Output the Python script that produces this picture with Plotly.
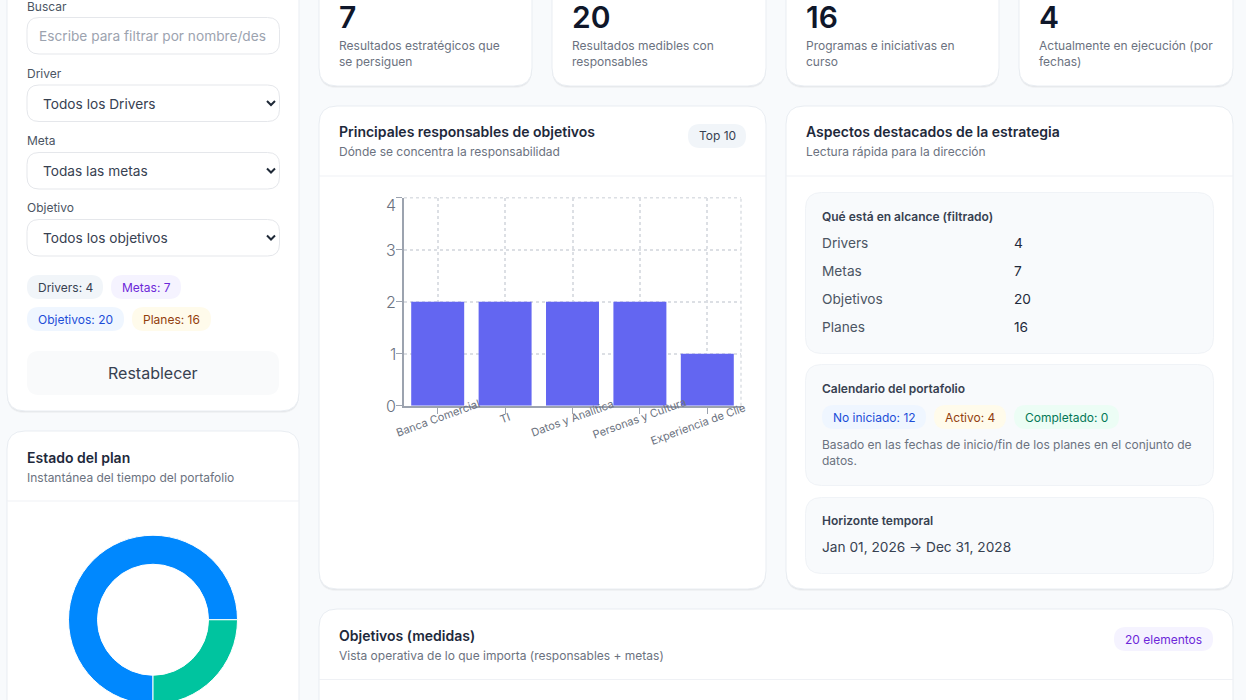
import plotly.graph_objects as go

# the page is taller than the window, the extra part is scrolled away with a negative margin
TOP = 40
W, H = 1246, 700 + TOP + 30

owners = ["Banca Comercial", "TI", "Datos y Analítica", "Personas y Cultura", "Experiencia de Clientes"]
owner_ticks = ["Banca Comercial", "TI", "Datos y Analítica", "Personas y Cultura", "Experiencia de Clie"]
owner_counts = [2, 2, 2, 2, 1]
count_ticks = [0, 1, 2, 3, 4]

status_labels = ["No iniciado", "Activo"]
status_values = [12, 4]
status_colors = ["#0088fe", "#00c49f"]

kpi_values = ["7", "20", "16", "4"]
kpi_notes = [
    ["Resultados estratégicos que", "se persiguen"],
    ["Resultados medibles con", "responsables"],
    ["Programas e iniciativas en", "curso"],
    ["Actualmente en ejecución (por", "fechas)"],
]
scope_labels = ["Drivers", "Metas", "Objetivos", "Planes"]
scope_values = ["4", "7", "20", "16"]
filter_labels = ["Driver", "Meta", "Objetivo"]
filter_values = ["Todos los Drivers", "Todas las metas", "Todos los objetivos"]

INK = "#1e293b"
BODY = "#374151"
MUTED = "#6b7280"
FONT = "Inter"


def px(x):
    return x / W


def py(y):
    return 1 - (y + TOP) / H


shapes = []
notes = []


def rrect(x0, y0, x1, y1, r, fill, line=None, lw=1):
    # rounded box in page pixels
    path = (
        f"M {px(x0 + r)} {py(y0)} L {px(x1 - r)} {py(y0)} Q {px(x1)} {py(y0)} {px(x1)} {py(y0 + r)} "
        f"L {px(x1)} {py(y1 - r)} Q {px(x1)} {py(y1)} {px(x1 - r)} {py(y1)} "
        f"L {px(x0 + r)} {py(y1)} Q {px(x0)} {py(y1)} {px(x0)} {py(y1 - r)} "
        f"L {px(x0)} {py(y0 + r)} Q {px(x0)} {py(y0)} {px(x0 + r)} {py(y0)} Z"
    )
    shapes.append(dict(type="path", path=path, xref="paper", yref="paper", layer="below",
                       fillcolor=fill, line=dict(color=line or fill, width=lw if line else 0)))


def card(x0, y0, x1, y1):
    rrect(x0, y0 + 2, x1, y1 + 2, 18, "rgba(15,23,42,0.035)")
    rrect(x0, y0 + 1, x1, y1 + 1, 18, "rgba(15,23,42,0.05)")
    rrect(x0, y0, x1, y1, 18, "#ffffff", "#e9edf2")


def hline(x0, x1, y):
    shapes.append(dict(type="line", xref="paper", yref="paper", layer="below",
                       x0=px(x0), x1=px(x1), y0=py(y), y1=py(y), line=dict(color="#eff1f5", width=1)))


def txt(x, y, s, size=12, color=MUTED, weight=400, anchor="left"):
    notes.append(dict(x=px(x - 1 if anchor == "left" else x), y=py(y), xref="paper", yref="paper", text=s, showarrow=False,
                      xanchor=anchor, yanchor="middle", borderpad=0,
                      font=dict(family=FONT, size=size, color=color, weight=weight)))


def pill(x0, x1, y0, y1, s, fill, color):
    rrect(x0, y0, x1, y1, 12, fill)
    txt((x0 + x1) / 2, (y0 + y1) / 2, s, 12, color, anchor="center")


def chevron(cx, cy):
    path = f"M {px(cx - 4)} {py(cy - 2)} L {px(cx)} {py(cy + 2)} L {px(cx + 4)} {py(cy - 2)}"
    shapes.append(dict(type="path", path=path, xref="paper", yref="paper", layer="below",
                       line=dict(color="#1f2937", width=2)))


# left column
card(7, -40, 299, 411)
txt(27, 6, "Buscar", 12, "#4b5563")
rrect(27, 17.5, 279.5, 54, 12, "#ffffff", "#e5e7eb")
txt(39, 36, "Escribe para filtrar por nombre/des", 13.7, "#9ca3af")
for label, value, top in zip(filter_labels, filter_values, [85, 152.5, 219.5]):
    txt(27, top - 12, label, 12, "#4b5563")
    rrect(27, top, 279.5, top + 36.5, 12, "#ffffff", "#e5e7eb")
    txt(43, top + 18.5, value, 13.7, BODY)
    chevron(271, top + 18)
pill(27, 103, 275, 299, "Drivers: 4", "#f1f5f9", BODY)
pill(111, 181, 275, 299, "Metas: 7", "#f5f3ff", "#6d28d9")
pill(27, 124, 307, 331, "Objetivos: 20", "#eff6ff", "#1d4ed8")
pill(132, 211, 307, 331, "Planes: 16", "#fffbeb", "#92400e")
rrect(27, 351, 279, 395, 12, "#f9fafb")
txt(153, 373, "Restablecer", 16, BODY, anchor="center")

card(7, 431, 299, 760)
hline(7, 299, 501)
txt(27, 457, "Estado del plan", 14, INK, 600)
txt(27, 477, "Instantánea del tiempo del portafolio", 12, MUTED)

# kpi row
for (x0, x1), value, lines in zip([(319, 532), (552, 766), (786, 999), (1019, 1233)], kpi_values, kpi_notes):
    card(x0, -40, x1, 86)
    txt(x0 + 20, 17, value, 30, "#0f172a", 600)
    txt(x0 + 20, 45.5, lines[0], 12, MUTED)
    txt(x0 + 20, 61.5, lines[1], 12, MUTED)

# owners card
card(319, 106, 766, 589)
hline(319, 766, 176)
txt(339, 132, "Principales responsables de objetivos", 14, INK, 600)
txt(339, 152, "Dónde se concentra la responsabilidad", 12, MUTED)
pill(688, 746, 124, 148, "Top 10", "#f1f5f9", BODY)

# highlights card
card(786, 106, 1233, 589)
hline(786, 1233, 176)
txt(806, 132, "Aspectos destacados de la estrategia", 14, INK, 600)
txt(806, 152, "Lectura rápida para la dirección", 12, MUTED)

rrect(805.5, 192.5, 1213.5, 353.5, 16, "#f8fafc", "#f0f3f7")
txt(822, 216.5, "Qué está en alcance (filtrado)", 12, BODY, 600)
for label, value, y in zip(scope_labels, scope_values, [243, 271, 299, 327]):
    txt(822, y, label, 13.7, "#4b5563")
    txt(1014, y, value, 13.7, INK, 400)

rrect(805.5, 364.5, 1213.5, 485.5, 16, "#f8fafc", "#f0f3f7")
txt(822, 388.5, "Calendario del portafolio", 12, BODY, 600)
pill(822, 926, 405, 429, "No iniciado: 12", "#eff6ff", "#1d4ed8")
pill(934, 1006, 405, 429, "Activo: 4", "#fffbeb", "#92400e")
pill(1014, 1119, 405, 429, "Completado: 0", "#ecfdf5", "#047857")
txt(822, 444.5, "Basado en las fechas de inicio/fin de los planes en el conjunto de", 12, MUTED)
txt(822, 460.5, "datos.", 12, MUTED)

rrect(805.5, 497.5, 1213.5, 573.5, 16, "#f8fafc", "#f0f3f7")
txt(822, 520.5, "Horizonte temporal", 12, BODY, 600)
txt(822, 547, "Jan 01, 2026 → Dec 31, 2028", 13.7, BODY)

# objectives card
card(319, 609, 1233, 760)
hline(319, 1233, 679.5)
txt(339, 635, "Objetivos (medidas)", 14, INK, 600)
txt(339, 655, "Vista operativa de lo que importa (responsables + metas)", 12, MUTED)
pill(1114, 1213, 627, 651, "20 elementos", "#f5f3ff", "#6d28d9")

# tick labels sit centred on the tick, so they are annotations on the axis
for i, (owner, label) in enumerate(zip(owners, owner_ticks)):
    clipped = label != owner
    notes.append(dict(x=owner, y=py(418 + (6 if clipped else 0)), xref="x", yref="paper", text=label,
                      showarrow=False, textangle=-20, xanchor="center", yanchor="middle", borderpad=0,
                      xshift=-9 if clipped else 0,
                      font=dict(family=FONT, size=11, color=MUTED)))

# same for the counts: the top one is nudged down inside the chart
for tick in count_ticks:
    notes.append(dict(x=px(396.5), y=tick, xref="paper", yref="y", text=str(tick), showarrow=False,
                      xanchor="right", yanchor="middle", borderpad=0, yshift=-7 if tick == count_ticks[-1] else 0,
                      font=dict(family=FONT, size=16, color=MUTED, weight=300)))

# right and top edge of the dashed grid
shapes.append(dict(type="line", xref="x domain", yref="y domain", x0=1, x1=1, y0=0, y1=1, layer="below",
                   line=dict(color="#dcdfe4", width=1.5, dash="3px,3px")))
shapes.append(dict(type="line", xref="x domain", yref="y domain", x0=0, x1=1, y0=1, y1=1, layer="below",
                   line=dict(color="#dcdfe4", width=1.5, dash="3px,3px")))

fig = go.Figure()
fig.add_trace(go.Bar(x=owners, y=owner_counts, marker=dict(color="#6366f1", line=dict(width=0)), showlegend=False))
fig.add_trace(go.Pie(labels=status_labels, values=status_values, marker=dict(colors=status_colors, line=dict(color="#ffffff", width=1)),
                     hole=55.5 / 84.5, sort=False, direction="clockwise", rotation=180, textinfo="none", showlegend=False,
                     domain=dict(x=[px(68.5), px(237.5)], y=[py(704.5), py(535)])))

fig.update_layout(
    width=W, height=H, margin=dict(l=0, r=0, t=0, b=0, pad=0), autosize=False,
    paper_bgcolor="#f8fafc", plot_bgcolor="rgba(0,0,0,0)", bargap=0.214,
    font=dict(family=FONT), shapes=shapes, annotations=notes,
    xaxis=dict(domain=[px(404), px(741)], range=[-0.5, 4.5], type="category", categoryorder="array", categoryarray=owners,
               showticklabels=False, ticks="outside", ticklen=6, tickcolor="#9ca3af", tickwidth=1,
               showline=True, linecolor="#9ca3af", linewidth=2,
               showgrid=True, gridcolor="#dcdfe4", griddash="3px,3px", gridwidth=1.5, zeroline=False),
    yaxis=dict(domain=[py(405.7), py(197.7)], range=[0, 4], tickvals=count_ticks, ticks="outside", ticklen=6,
               tickcolor="#9ca3af", tickwidth=1, showline=True, linecolor="#9ca3af", linewidth=2,
               showticklabels=False,
               showgrid=True, gridcolor="#dcdfe4", griddash="3px,3px", gridwidth=1.5, zeroline=False),
)

fig.write_html("out.html", config=dict(displayModeBar=False),
               post_script=f"document.body.style.margin='0';document.body.style.overflow='hidden';"
                           f"document.getElementById('{{plot_id}}').style.marginTop='-{TOP}px';")
